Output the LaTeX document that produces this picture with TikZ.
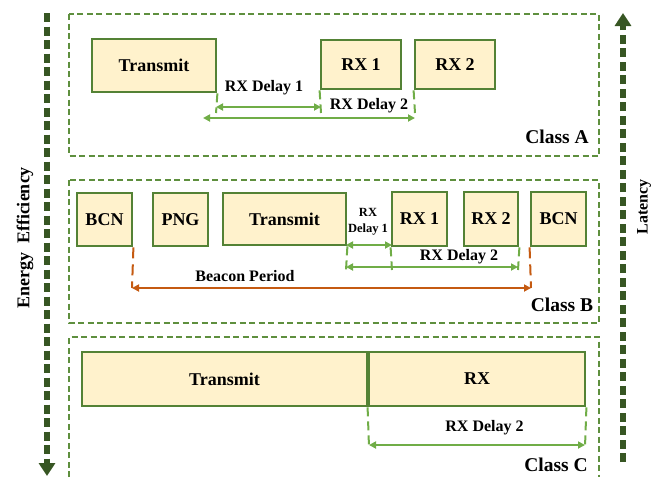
\documentclass[tikz,border=0pt]{standalone}
\usepackage{fontspec}
\setmainfont{Liberation Serif}
\usetikzlibrary{arrows.meta}
\definecolor{boxgreen}{HTML}{548235}
\definecolor{dashgreen}{HTML}{5E8F3E}
\definecolor{delaygreen}{HTML}{70AD47}
\definecolor{sidegreen}{HTML}{375623}
\definecolor{boxfill}{HTML}{FFF2CC}
\definecolor{beaconorange}{HTML}{C55A11}

\begin{document}
\begin{tikzpicture}[x=1pt,y=1pt,
        every node/.style={inner sep=0pt, font=\bfseries\fontsize{18}{20}\selectfont},
        slot/.style={draw=boxgreen, line width=2.8pt, fill=boxfill},
        classbox/.style={draw=dashgreen, line width=2pt, dash pattern=on 6pt off 3.5pt},
        classlbl/.style={font=\bfseries\fontsize{19.5}{21}\selectfont},
        dlbl/.style={font=\bfseries\fontsize{16}{18}\selectfont},
        delay/.style={draw=delaygreen, line width=2pt, arrows={Triangle[length=7pt,width=7pt]-Triangle[length=7pt,width=7pt]}},
        tick/.style={draw=delaygreen, line width=2pt, dash pattern=on 9pt off 5pt},
        beacon/.style={draw=beaconorange, line width=2pt, arrows={Triangle[length=7pt,width=7pt]-Triangle[length=7pt,width=7pt]}},
        btick/.style={draw=beaconorange, line width=2pt, dash pattern=on 11pt off 6pt},
        side/.style={draw=sidegreen, line width=5.5pt, dash pattern=on 9pt off 4.5pt, -{Triangle[length=13pt,width=16pt]}}]
        \useasboundingbox (0,0) rectangle (664,-477);
        % class A
        \draw [classbox] (69,-14) rectangle (599,-156);
        \node [slot, minimum width=124, minimum height=53] (txA) at (154,-65.5) {Transmit};
        \node [slot, minimum width=80, minimum height=49] (rxoneA) at (361,-64.5) {RX 1};
        \node [slot, minimum width=80, minimum height=49] (rxtwoA) at (455,-64.5) {RX 2};
        \coordinate (tkA1) at (216,-113);
        \coordinate (tkA2) at (321,-113);
        \coordinate (tkA3) at (415,-113);
        \coordinate (dAl) at (216,-107);
        \coordinate (dAr) at (321,-107);
        \coordinate (ddAl) at (203,-118);
        \coordinate (ddAr) at (415,-118);
        \draw [tick] (txA.south east) -- (tkA1);
        \draw [tick] (rxoneA.south west) -- (tkA2);
        \draw [tick] (rxtwoA.south west) -- (tkA3);
        \draw [delay] (dAl) -- (dAr);
        \draw [delay] (ddAl) -- (ddAr);
        \node [dlbl] (lblA1) at (264,-88) {RX Delay 1};
        \node [dlbl] (lblA2) at (369,-106) {RX Delay 2};
        \node [classlbl] (clsA) at (557,-137) {Class A};
        % class B
        \draw [classbox] (69,-180) rectangle (599,-323);
        \node [slot, minimum width=55, minimum height=53] (bcnB) at (104.5,-219.5) {BCN};
        \node [slot, minimum width=55, minimum height=53] (pngB) at (180.5,-219.5) {PNG};
        \node [slot, minimum width=123, minimum height=52] (txB) at (284.5,-219) {Transmit};
        \node [slot, minimum width=55, minimum height=54] (rxoneB) at (419.5,-219) {RX 1};
        \node [slot, minimum width=54, minimum height=54] (rxtwoB) at (491,-219) {RX 2};
        \node [slot, minimum width=55, minimum height=54] (bcnBB) at (558.5,-219) {BCN};
        \coordinate (tkB1) at (346,-270);
        \coordinate (tkB2) at (392,-270);
        \coordinate (tkB3) at (518,-270);
        \coordinate (dBl) at (346,-245);
        \coordinate (dBr) at (392,-245);
        \coordinate (ddBl) at (346,-267);
        \coordinate (ddBr) at (518,-267);
        \coordinate (bpl) at (132,-288);
        \coordinate (bpr) at (531,-288);
        \draw [tick] (txB.south east) -- (tkB1);
        \draw [tick] (rxoneB.south west) -- (tkB2);
        \draw [tick] (rxtwoB.south east) -- (tkB3);
        \draw [btick] (bcnB.south east) -- (bpl);
        \draw [btick] (bcnBB.south west) -- (bpr);
        \draw [delay] (dBl) -- (dBr);
        \draw [delay] (ddBl) -- (ddBr);
        \draw [beacon] (bpl) -- (bpr);
        \node [align=center, font=\bfseries\fontsize{12.5}{15.5}\selectfont] (lblB1) at (368,-222) {RX\\Delay 1};
        \node [dlbl] (lblB2) at (459,-257) {RX Delay 2};
        \node [dlbl] (lblBP) at (245,-276) {Beacon Period};
        \node [classlbl] (clsB) at (562,-305) {Class B};
        % class C
        \draw [classbox] (69,-477) -- (69,-337) -- (599,-337) -- (599,-477);
        \node [slot, minimum width=285, minimum height=54] (txC) at (224.5,-379) {Transmit};
        \node [slot, minimum width=216, minimum height=54] (rxC) at (477,-379) {RX};
        \coordinate (tkC1) at (369,-447);
        \coordinate (tkC2) at (585,-447);
        \coordinate (dCl) at (369,-445);
        \coordinate (dCr) at (585,-445);
        \draw [tick] (rxC.south west) -- (tkC1);
        \draw [tick] (rxC.south east) -- (tkC2);
        \draw [delay] (dCl) -- (dCr);
        \node [dlbl] (lblC) at (484.5,-428) {RX Delay 2};
        \node [classlbl] (clsC) at (556,-465) {Class C};
        % side arrows
        \coordinate (effTop) at (47,-13);
        \coordinate (effBot) at (47,-476);
        \coordinate (latBot) at (623,-462);
        \coordinate (latTop) at (623,-13);
        \draw [side] (effTop) -- (effBot);
        \draw [side] (latBot) -- (latTop);
        \node [rotate=90] (eff) at (25,-238) {Energy\ \ Efficiency};
        \node [rotate=90, font=\bfseries\fontsize{16}{18}\selectfont] (lat) at (644,-207) {Latency};
\end{tikzpicture}
\end{document}
